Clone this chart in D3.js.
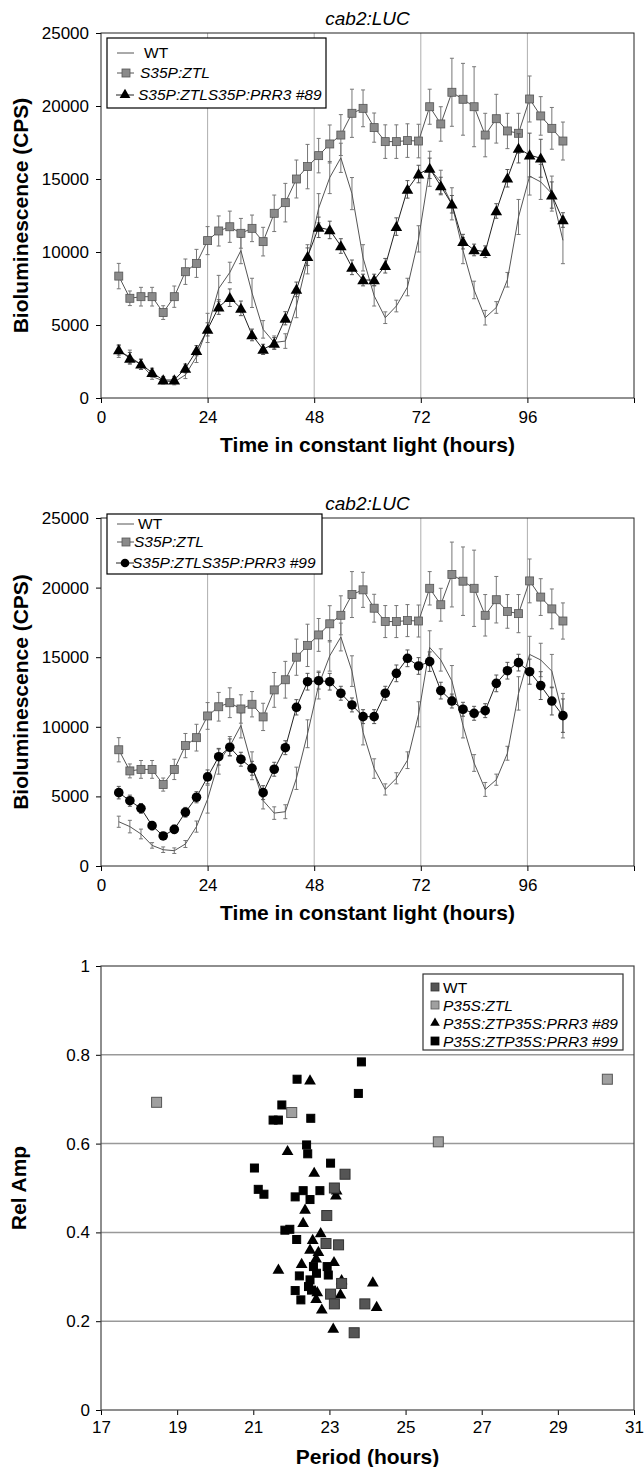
<!DOCTYPE html>
<html>
<head>
<meta charset="utf-8">
<script src="https://cdn.jsdelivr.net/npm/d3@7"></script>
<style>
body { margin: 0; background: #fff; }
text { font-family: "Liberation Sans", Arial, sans-serif; }
</style>
</head>
<body>
<svg id="fig" width="644" height="1467"></svg>
<script>
// time points (hours in constant light)
const hours = [4, 6.5, 9, 11.5, 14, 16.5, 19, 21.5, 24, 26.5, 29, 31.5, 34, 36.5, 39, 41.5, 44, 46.5, 49, 51.5,
  54, 56.5, 59, 61.5, 64, 66.5, 69, 71.5, 74, 76.5, 79, 81.5, 84, 86.5, 89, 91.5, 94, 96.5, 99, 101.5, 104];

// WT
const wt = [3180, 2830, 2300, 1480, 1170, 1100, 1580, 2830, 4800, 7500, 8600, 10100, 7200, 4700, 3800, 3900, 6300, 9500, 13000, 15100,
  16450, 14000, 9600, 7000, 5500, 6300, 7600, 10900, 15700, 14800, 13300, 10100, 7400, 5500, 6200, 8100, 12400, 15200, 14800, 14000, 10800];
const wtErr = [400, 450, 350, 200, 200, 200, 250, 400, 1000, 900, 700, 900, 1000, 600, 450, 500, 800, 1000, 1000, 1100,
  1000, 1100, 900, 700, 400, 400, 600, 900, 1200, 800, 1100, 900, 600, 500, 400, 500, 1200, 1300, 1200, 1200, 1600];

// S35P:ZTL
const ztl = [8350, 6830, 6940, 6940, 5850, 6940, 8650, 9220, 10780, 11440, 11730, 11280, 11620, 10710, 12650, 13380, 15000, 15850, 16600, 17400,
  18010, 19500, 19840, 18520, 17560, 17560, 17630, 17600, 19950, 18770, 20940, 20460, 19950, 18010, 19130, 18290, 18130, 20480, 19320, 18470, 17600];
const ztlErr = [870, 500, 640, 640, 470, 730, 870, 960, 960, 1030, 1070, 1020, 910, 980, 1250, 1320, 1300, 1520, 1180, 1300,
  1400, 1650, 1260, 1000, 1150, 1150, 1150, 1150, 1200, 1180, 2330, 2460, 2740, 1490, 1670, 1210, 1370, 1575, 1320, 1430, 1300];

// S35P:ZTL S35P:PRR3 #89
const prr89 = [3290, 2720, 2310, 1740, 1230, 1230, 2030, 3240, 4700, 6230, 6870, 6140, 4320, 3330, 3740, 5460, 7440, 9680, 11690, 11510,
  10410, 8950, 8080, 8080, 9060, 11740, 14290, 15340, 15730, 14520, 13270, 10710, 10140, 10020, 12810, 15050, 17100, 16640, 16420, 13900, 12190];
const prr89Err = [350, 400, 350, 300, 250, 250, 300, 350, 450, 500, 600, 500, 400, 350, 400, 450, 500, 600, 700, 600,
  500, 500, 400, 400, 500, 600, 600, 600, 700, 600, 600, 500, 400, 400, 500, 600, 1000, 1500, 1300, 900, 500];

// S35P:ZTL S35P:PRR3 #99
const prr99 = [5270, 4690, 4140, 2900, 2160, 2630, 3860, 4940, 6400, 7850, 8530, 7670, 7020, 5270, 6950, 8500, 11400, 13240, 13310, 13240,
  12410, 11570, 10730, 10730, 12410, 13840, 14920, 14370, 14680, 12600, 11850, 11260, 10970, 11160, 13120, 14030, 14610, 13960, 12960, 11850, 10800];
const prr99Err = [450, 400, 350, 300, 250, 300, 350, 400, 500, 600, 600, 500, 500, 500, 500, 500, 550, 600, 600, 600,
  500, 500, 500, 500, 500, 600, 600, 600, 700, 600, 500, 500, 500, 500, 600, 600, 600, 900, 1000, 1000, 1200];

const timeTicks = [0, 24, 48, 72, 96, 120];
const cpsTicks = [0, 5000, 10000, 15000, 20000, 25000];

// period / relative amplitude scatter: [period, relAmp]
const scWT = [[23.41, 0.531], [23.13, 0.500], [22.93, 0.438], [22.91, 0.375], [23.24, 0.372], [23.32, 0.285], [23.03, 0.261],
  [23.13, 0.239], [23.93, 0.239], [23.65, 0.174]];
const scZTL = [[18.46, 0.693], [22.01, 0.670], [25.86, 0.604], [30.30, 0.745]];
const sc89 = [[22.49, 0.743], [21.90, 0.584], [22.60, 0.535], [23.19, 0.495], [22.36, 0.452], [22.31, 0.422], [22.77, 0.399],
  [22.56, 0.384], [22.49, 0.362], [22.71, 0.357], [22.65, 0.342], [22.27, 0.330], [21.66, 0.317], [23.12, 0.334], [22.68, 0.266],
  [22.80, 0.227], [23.32, 0.293], [23.29, 0.261], [24.14, 0.288], [24.24, 0.233], [23.10, 0.184], [22.65, 0.251], [23.17, 0.484]];
const sc99 = [[22.15, 0.745], [23.76, 0.713], [23.84, 0.784], [21.75, 0.687], [21.52, 0.653], [21.66, 0.653], [22.51, 0.657],
  [22.40, 0.597], [22.43, 0.577], [23.03, 0.556], [21.03, 0.545], [21.13, 0.497], [21.28, 0.486], [22.10, 0.480], [22.31, 0.494],
  [22.49, 0.474], [22.75, 0.494], [21.83, 0.405], [21.96, 0.407], [22.14, 0.384], [22.21, 0.302], [22.10, 0.269], [22.25, 0.248],
  [22.58, 0.323], [22.94, 0.323], [22.97, 0.304], [22.49, 0.293], [22.53, 0.270], [22.66, 0.308], [22.45, 0.278]];
const periodTicks = [17, 19, 21, 23, 25, 27, 29, 31];
const ampTicks = [0, 0.2, 0.4, 0.6, 0.8, 1];

const svg = d3.select("#fig");
const left = 101, right = 634;
const tri = d3.symbol().type(d3.symbolTriangle);

function styleAxis(g) {
  g.select(".domain").remove();
  g.selectAll(".tick line").attr("stroke", "#000");
  g.selectAll(".tick text").attr("font-size", 17).attr("fill", "#000");
}

function timePanel(top, bottom, third, thirdErr, kind, label, leg) {
  const x = d3.scaleLinear().domain([0, 120]).range([left, right]);
  const y = d3.scaleLinear().domain([0, 25000]).range([bottom, top]);
  const g = svg.append("g");

  // vertical grid lines
  g.selectAll(".vg").data([24, 48, 72, 96]).enter().append("line")
    .attr("x1", d => x(d)).attr("x2", d => x(d)).attr("y1", top).attr("y2", bottom)
    .attr("stroke", "#999").attr("stroke-width", 0.8);

  g.append("g").attr("transform", `translate(${left},0)`)
    .call(d3.axisLeft(y).tickValues(cpsTicks).tickSize(5).tickPadding(7).tickFormat(d3.format("d"))).call(styleAxis);
  g.append("g").attr("transform", `translate(0,${bottom})`)
    .call(d3.axisBottom(x).tickValues(timeTicks).tickSize(5).tickPadding(8).tickFormat(d => d === 120 ? "" : d)).call(styleAxis);
  g.append("rect").attr("x", left).attr("y", top).attr("width", right - left).attr("height", bottom - top)
    .attr("fill", "none").attr("stroke", "#222").attr("stroke-width", 1);

  function series(vals, errs, lineCol, barCol) {
    const pts = hours.map((h, i) => ({ h, v: vals[i], e: errs[i] }));
    const bars = g.append("g").attr("stroke", barCol).attr("stroke-width", 1);
    pts.forEach(p => {
      bars.append("line").attr("x1", x(p.h)).attr("x2", x(p.h)).attr("y1", y(p.v - p.e)).attr("y2", y(p.v + p.e));
      bars.append("line").attr("x1", x(p.h) - 2).attr("x2", x(p.h) + 2).attr("y1", y(p.v + p.e)).attr("y2", y(p.v + p.e));
      bars.append("line").attr("x1", x(p.h) - 2).attr("x2", x(p.h) + 2).attr("y1", y(p.v - p.e)).attr("y2", y(p.v - p.e));
    });
    g.append("path").datum(pts)
      .attr("d", d3.line().x(d => x(d.h)).y(d => y(d.v)))
      .attr("fill", "none").attr("stroke", lineCol).attr("stroke-width", 1);
    return pts;
  }

  series(wt, wtErr, "#555", "#777");
  const zp = series(ztl, ztlErr, "#555", "#777");
  g.selectAll(".zsq").data(zp).enter().append("rect")
    .attr("x", d => x(d.h) - 4).attr("y", d => y(d.v) - 4).attr("width", 8).attr("height", 8)
    .attr("fill", "#8a8a8a").attr("stroke", "#555").attr("stroke-width", 0.8);
  const tp = series(third, thirdErr, "#222", "#555");
  if (kind === "tri") {
    g.selectAll(".tm").data(tp).enter().append("path")
      .attr("d", tri.size(58)).attr("transform", d => `translate(${x(d.h)},${y(d.v) + 1})`).attr("fill", "#000");
  } else {
    g.selectAll(".cm").data(tp).enter().append("circle")
      .attr("cx", d => x(d.h)).attr("cy", d => y(d.v)).attr("r", 4.8).attr("fill", "#000");
  }

  // title and axis titles
  g.append("text").attr("x", (left + right) / 2).attr("y", top - 8).attr("text-anchor", "middle")
    .attr("font-size", 19).attr("font-style", "italic").text("cab2:LUC");
  g.append("text").attr("x", (left + right) / 2).attr("y", bottom + 54).attr("text-anchor", "middle")
    .attr("font-size", 21).attr("font-weight", "bold").text("Time in constant light (hours)");
  g.append("text").attr("transform", `translate(28,${(top + bottom) / 2}) rotate(-90)`).attr("text-anchor", "middle")
    .attr("font-size", 21).attr("font-weight", "bold").text("Bioluminescence (CPS)");

  // legend
  const lg = g.append("g");
  lg.append("rect").attr("x", 107).attr("y", top + leg.top).attr("width", leg.w).attr("height", leg.h)
    .attr("fill", "#fff").attr("stroke", "#000").attr("stroke-width", 1.2);
  const rows = leg.rows.map(r => top + r);
  lg.append("line").attr("x1", 117).attr("x2", 134).attr("y1", rows[0]).attr("y2", rows[0]).attr("stroke", "#555");
  lg.append("text").attr("x", leg.tx).attr("y", rows[0] + 5).attr("font-size", 15.5).text("WT");
  lg.append("line").attr("x1", 117).attr("x2", 134).attr("y1", rows[1]).attr("y2", rows[1]).attr("stroke", "#555");
  lg.append("rect").attr("x", 122).attr("y", rows[1] - 4).attr("width", 8).attr("height", 8)
    .attr("fill", "#8a8a8a").attr("stroke", "#555").attr("stroke-width", 0.8);
  lg.append("text").attr("x", leg.tx - 4).attr("y", rows[1] + 5).attr("font-size", 15.5).attr("font-style", "italic").text("S35P:ZTL");
  lg.append("line").attr("x1", 116).attr("x2", 134).attr("y1", rows[2]).attr("y2", rows[2]).attr("stroke", "#222");
  if (kind === "tri") {
    lg.append("path").attr("d", tri.size(50)).attr("transform", `translate(125,${rows[2]})`).attr("fill", "#000");
  } else {
    lg.append("circle").attr("cx", 125).attr("cy", rows[2]).attr("r", 4.3).attr("fill", "#000");
  }
  lg.append("text").attr("x", leg.tx - 6).attr("y", rows[2] + 5).attr("font-size", 15.5).attr("font-style", "italic").text(label);
}

timePanel(33, 398, prr89, prr89Err, "tri", "S35P:ZTLS35P:PRR3 #89",
  { top: 5, w: 219, h: 70, rows: [20, 40, 62], tx: 144 });
timePanel(518, 866, prr99, prr99Err, "circ", "S35P:ZTLS35P:PRR3 #99",
  { top: -4, w: 215, h: 60, rows: [6, 24, 45], tx: 138 });

// ---- scatter: period vs relative amplitude ----
const top3 = 966, bottom3 = 1410;
const px = d3.scaleLinear().domain([17, 31]).range([left, right]);
const py = d3.scaleLinear().domain([0, 1]).range([bottom3, top3]);
const s3 = svg.append("g");

s3.selectAll(".hg").data([0.2, 0.4, 0.6, 0.8]).enter().append("line")
  .attr("x1", left).attr("x2", right).attr("y1", d => py(d)).attr("y2", d => py(d))
  .attr("stroke", "#999").attr("stroke-width", 1.5);
s3.append("g").attr("transform", `translate(${left},0)`)
  .call(d3.axisLeft(py).tickValues(ampTicks).tickSize(5).tickPadding(6).tickFormat(d3.format("~g"))).call(styleAxis);
s3.append("g").attr("transform", `translate(0,${bottom3})`)
  .call(d3.axisBottom(px).tickValues(periodTicks).tickSize(5).tickPadding(6)).call(styleAxis);
s3.append("rect").attr("x", left).attr("y", top3).attr("width", right - left).attr("height", bottom3 - top3)
  .attr("fill", "none").attr("stroke", "#444").attr("stroke-width", 1.2);

function squares(data, fill, stroke, size) {
  s3.append("g").selectAll("rect").data(data).enter().append("rect")
    .attr("x", d => px(d[0]) - size / 2).attr("y", d => py(d[1]) - size / 2)
    .attr("width", size).attr("height", size).attr("fill", fill).attr("stroke", stroke).attr("stroke-width", 1);
}
squares(scZTL, "#a0a0a0", "#555", 10);
squares(sc99, "#000", "#000", 8);
s3.append("g").selectAll("path").data(sc89).enter().append("path")
  .attr("d", tri.size(60)).attr("transform", d => `translate(${px(d[0])},${py(d[1]) + 1})`).attr("fill", "#000");
squares(scWT, "#555", "#333", 10);

s3.append("text").attr("x", (left + right) / 2).attr("y", 1464).attr("text-anchor", "middle")
  .attr("font-size", 21).attr("font-weight", "bold").text("Period (hours)");
s3.append("text").attr("transform", `translate(26,${(top3 + bottom3) / 2}) rotate(-90)`).attr("text-anchor", "middle")
  .attr("font-size", 21).attr("font-weight", "bold").text("Rel Amp");

// scatter legend
const lg3 = s3.append("g");
lg3.append("rect").attr("x", 423).attr("y", 974).attr("width", 200).attr("height", 76)
  .attr("fill", "#fff").attr("stroke", "#333").attr("stroke-width", 1.2);
const legRows = [
  { t: "WT", it: false, f: "#555", s: "#333" },
  { t: "P35S:ZTL", it: true, f: "#a0a0a0", s: "#555" },
  { t: "P35S:ZTP35S:PRR3 #89", it: true, tri: true },
  { t: "P35S:ZTP35S:PRR3 #99", it: true, f: "#000", s: "#000" }
];
legRows.forEach((r, i) => {
  const yy = 987 + i * 18;
  if (r.tri) {
    lg3.append("path").attr("d", tri.size(40)).attr("transform", `translate(435,${yy})`).attr("fill", "#000");
  } else {
    lg3.append("rect").attr("x", 431).attr("y", yy - 4).attr("width", 8).attr("height", 8)
      .attr("fill", r.f).attr("stroke", r.s).attr("stroke-width", 0.8);
  }
  lg3.append("text").attr("x", 443).attr("y", yy + 5.5).attr("font-size", 15.5)
    .attr("font-style", r.it ? "italic" : "normal").text(r.t);
});
</script>
</body>
</html>
